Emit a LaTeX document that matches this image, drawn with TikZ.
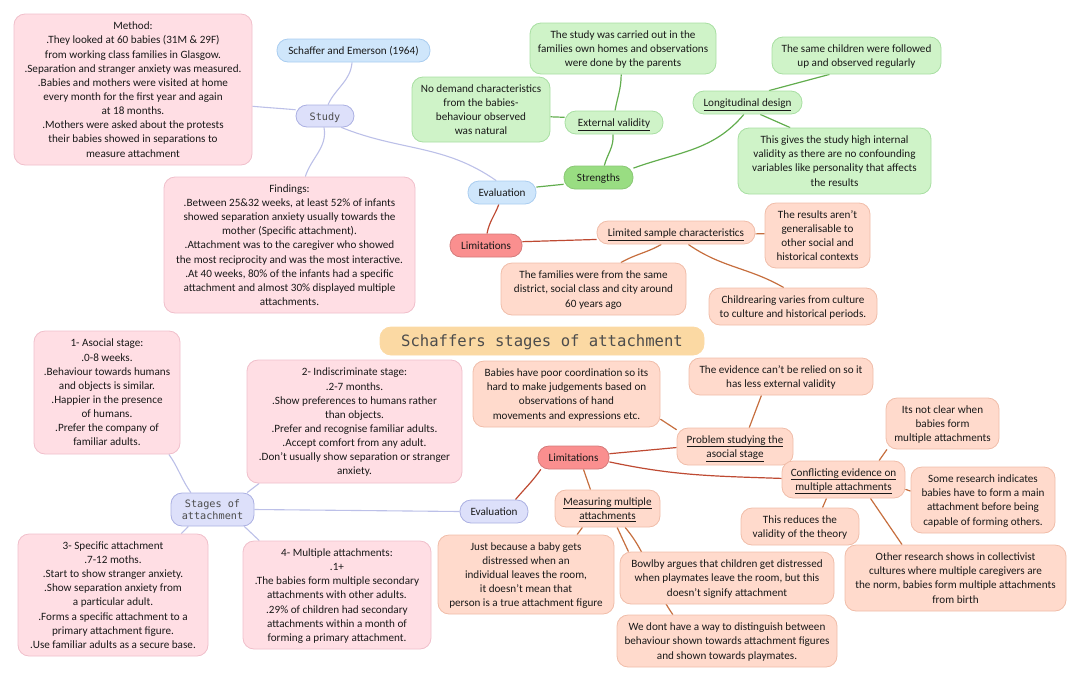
\documentclass[tikz,border=0pt]{standalone}
\usepackage{fontspec}
\setmainfont{Carlito}
\newfontfamily\monofont{DejaVu Sans Mono}
\usetikzlibrary{backgrounds}

\definecolor{pinkfill}{HTML}{FFDEE4}
\definecolor{pinkline}{HTML}{F0BFCB}
\definecolor{bluefill}{HTML}{CFE6FB}
\definecolor{blueline}{HTML}{A9CDF0}
\definecolor{lavfill}{HTML}{DDE0FA}
\definecolor{lavline}{HTML}{ABB0E2}
\definecolor{greenfill}{HTML}{CFF3C8}
\definecolor{greenline}{HTML}{A8DFA2}
\definecolor{peachfill}{HTML}{FFDACC}
\definecolor{peachline}{HTML}{F0BDA9}
\definecolor{titlefill}{HTML}{FBD9A3}
\definecolor{strongfill}{HTML}{99DD82}
\definecolor{limitfill}{HTML}{FA8F8F}
\definecolor{lavlink}{HTML}{BCC0E8}
\definecolor{greenlink}{HTML}{62AD4E}
\definecolor{redlink}{HTML}{BE4A32}
\definecolor{orangelink}{HTML}{C66E3E}

\tikzset{
    box/.style={rectangle, rounded corners=11pt, draw, line width=0.8pt, align=center, text=black!90,
        inner sep=0pt, font=\fontsize{11.15}{14.15}\selectfont, text depth=-1pt, execute at begin node={\rule{0pt}{8.5pt}}},
    pinkbox/.style={box, fill=pinkfill, draw=pinkline},
    bluebox/.style={box, fill=bluefill, draw=blueline},
    lavbox/.style={box, fill=lavfill, draw=lavline},
    greenbox/.style={box, fill=greenfill, draw=greenline},
    peachbox/.style={box, fill=peachfill, draw=peachline},
    monotext/.style={font=\monofont\fontsize{10.2}{12.4}\selectfont, text=black!70},
    size/.style 2 args={minimum width=#1 pt, minimum height=#2 pt},
    lavlk/.style={draw=lavlink, line width=1.1pt},
    greenlk/.style={draw=greenlink, line width=1.2pt},
    redlk/.style={draw=redlink, line width=1.2pt},
    orangelk/.style={draw=orangelink, line width=1.2pt},
}

\begin{document}
\begin{tikzpicture}[x=1pt,y=1pt]
    \useasboundingbox (0,0) rectangle (1080,-681);

    % upper left, the study
    \node[pinkbox, size={238}{151}] (method) at (133,-89.5) {Method:\\.They looked at 60 babies (31M \& 29F)\\from working class families in Glasgow.\\.Separation and stranger anxiety was measured.\\.Babies and mothers were visited at home\\every month for the first year and again\\at 18 months.\\.Mothers were asked about the protests\\their babies showed in separations to\\measure attachment};
    \node[bluebox, size={153}{23}] (schaffer) at (353.5,-50.5) {Schaffer and Emerson (1964)};
    \node[lavbox, monotext, size={58}{22}] (study) at (325,-116) {Study};
    \node[pinkbox, size={251}{136}] (findings) at (289.5,-245) {Findings:\\.Between 25\&32 weeks, at least 52\% of infants\\showed separation anxiety usually towards the\\mother (Specific attachment).\\.Attachment was to the caregiver who showed\\the most reciprocity and was the most interactive.\\.At 40 weeks, 80\% of the infants had a specific\\attachment and almost 30\% displayed multiple\\attachments.};

    % upper right, the evaluation
    \node[bluebox, size={68}{23}] (evaltop) at (502,-192.5) {Evaluation};
    \node[box, fill=limitfill, draw=limitfill!85!black, size={72}{23}] (limtop) at (486,-245.5) {Limitations};
    \node[box, fill=strongfill, draw=strongfill!90!black, size={69}{23}] (strengths) at (598.5,-177.5) {Strengths};
    \node[greenbox, size={98}{23}] (external) at (614,-122.5) {\underline{External validity}};
    \node[greenbox, size={186}{51}] (carried) at (623,-48.5) {The study was carried out in the\\families own homes and observations\\were done by the parents};
    \node[greenbox, size={138}{65}] (demand) at (481,-109.5) {No demand characteristics\\from the babies-\\behaviour observed\\was natural};
    \node[greenbox, size={109}{23}] (longi) at (747.5,-102.5) {\underline{Longitudinal design}};
    \node[greenbox, size={169}{37}] (same) at (856.5,-55.5) {The same children were followed\\up and observed regularly};
    \node[greenbox, size={193}{66}] (gives) at (834.5,-161) {This gives the study high internal\\validity as there are no confounding\\variables like personality that affects\\the results};
    \node[peachbox, size={158}{23}] (limited) at (676,-232.5) {\underline{Limited sample characteristics}};
    \node[peachbox, size={105}{65}] (results) at (817.5,-235.5) {The results aren't\\generalisable to\\other social and\\historical contexts};
    \node[peachbox, size={185}{52}] (families) at (593.5,-289) {The families were from the same\\district, social class and city around\\60 years ago};
    \node[peachbox, size={168}{37}] (childrearing) at (793,-306.5) {Childrearing varies from culture\\to culture and historical periods.};

    \node[box, fill=titlefill, draw=titlefill, text=black!70, font=\monofont\fontsize{15.6}{18}\selectfont, size={324}{28}] (title) at (542,-341) {Schaffers stages of attachment};

    % lower left, the stages
    \node[pinkbox, size={146}{123}] (asocial) at (107,-392.5) {1- Asocial stage:\\.0-8 weeks.\\.Behaviour towards humans\\and objects is similar.\\.Happier in the presence\\of humans.\\.Prefer the company of\\familiar adults.};
    \node[pinkbox, size={215}{123}] (indisc) at (354.5,-421.5) {2- Indiscriminate stage:\\.2-7 months.\\.Show preferences to humans rather\\than objects.\\.Prefer and recognise familiar adults.\\.Accept comfort from any adult.\\.Don't usually show separation or stranger\\anxiety.};
    \node[lavbox, monotext, size={83}{33}] (stages) at (212.5,-509.5) {Stages of\\attachment};
    \node[pinkbox, size={190}{122}] (specific) at (113,-595) {3- Specific attachment\\.7-12 moths.\\.Start to show stranger anxiety.\\.Show separation anxiety from\\a particular adult.\\.Forms a specific attachment to a\\primary attachment figure.\\.Use familiar adults as a secure base.};
    \node[pinkbox, size={188}{108}] (multiple) at (337,-595) {4- Multiple attachments:\\.1+\\.The babies form multiple secondary\\attachments with other adults.\\.29\% of children had secondary\\attachments within a month of\\forming a primary attachment.};

    % lower right, the limitations
    \node[lavbox, size={68}{23}] (evalbot) at (494,-511.5) {Evaluation};
    \node[box, fill=limitfill, draw=limitfill!85!black, size={71}{23}] (limbot) at (573.5,-457.5) {Limitations};
    \node[peachbox, size={187}{66}] (poor) at (566.5,-394) {Babies have poor coordination so its\\hard to make judgements based on\\observations of hand\\movements and expressions etc.};
    \node[peachbox, size={184}{37}] (evidence) at (781,-376.5) {The evidence can't be relied on so it\\has less external validity};
    \node[peachbox, size={116}{37}] (problem) at (735,-446.5) {\underline{Problem studying the}\\\underline{asocial stage}};
    \node[peachbox, size={113}{51}] (notclear) at (942.5,-423.5) {Its not clear when\\babies form\\multiple attachments};
    \node[peachbox, size={123}{37}] (conflicting) at (843.5,-479.5) {\underline{Conflicting evidence on}\\\underline{multiple attachments}};
    \node[peachbox, size={144}{66}] (some) at (983,-500) {Some research indicates\\babies have to form a main\\attachment before being\\capable of forming others.};
    \node[peachbox, size={118}{37}] (reduces) at (800,-526.5) {This reduces the\\validity of the theory};
    \node[peachbox, size={221}{66}] (other) at (955.5,-578) {Other research shows in collectivist\\cultures where multiple caregivers are\\the norm, babies form multiple attachments\\from birth};
    \node[peachbox, size={105}{37}] (measuring) at (607.5,-508.5) {\underline{Measuring multiple}\\\underline{attachments}};
    \node[peachbox, size={176}{79}] (just) at (526,-574.5) {Just because a baby gets\\distressed when an\\individual leaves the room,\\it doesn't mean that\\person is a true attachment figure};
    \node[peachbox, size={214}{52}] (bowlby) at (727,-578) {Bowlby argues that children get distressed\\when playmates leave the room, but this\\doesn't signify attachment};
    \node[peachbox, size={220}{52}] (wedont) at (727,-641) {We dont have a way to distinguish between\\behaviour shown towards attachment figures\\and shown towards playmates.};

    \begin{scope}[on background layer]
        \draw[lavlk] (study.75) to[out=65,in=-95] (schaffer.263);
        \draw[lavlk] (study.168) to[out=175,in=-5] (method.-8);
        \draw[lavlk] (study.265) to[out=-80,in=72] (findings.77);
        \draw[lavlk] (study.-35) to[out=-22,in=145] (evaltop.116);

        \draw[greenlk] (evaltop.9) -- (strengths.191);
        \draw[redlk] (evaltop.255) to[out=-110,in=80] (limtop.85);
        \draw[greenlk] (strengths.64) to[out=75,in=-85] (external.265);
        \draw[greenlk] (external.85) to[out=80,in=-90] (carried.266);
        \draw[greenlk] (external.174) -- (demand.-6);
        \draw[greenlk] (strengths.15) to[out=20,in=-130] (longi.253);
        \draw[greenlk] (longi.29) -- (same.215);
        \draw[greenlk] (longi.-43) -- (gives.143);
        \draw[redlk] (limtop.6) -- (limited.185);
        \draw[orangelk] (limited.-1) -- (results.178);
        \draw[orangelk] (limited.219) to[out=210,in=30] (families.44.5);
        \draw[orangelk] (limited.-44) to[out=-35,in=150] (childrearing.116);

        \draw[lavlk] (stages.142) to[out=125,in=-55] (asocial.-45);
        \draw[lavlk] (stages.26) -- (indisc.213);
        \draw[lavlk] (stages.215) -- (specific.42);
        \draw[lavlk] (stages.-28) -- (multiple.145);
        \draw[lavlk] (stages.0) -- (evalbot.180);

        \draw[redlk] (evalbot.29) to[out=50,in=-125] (limbot.200);
        \draw[redlk] (limbot.6) -- (problem.181);
        \draw[redlk] (limbot.-7) to[out=-12,in=178] (conflicting.179);
        \draw[orangelk] (limbot.-50) -- (measuring.132);
        \draw[orangelk] (problem.164) -- (poor.-15);
        \draw[orangelk] (problem.53) -- (evidence.224);
        \draw[orangelk] (conflicting.28) -- (notclear.205);
        \draw[orangelk] (conflicting.-9) -- (some.173);
        \draw[orangelk] (conflicting.228) -- (reduces.40);
        \draw[orangelk] (conflicting.-35) -- (other.148);
        \draw[orangelk] (measuring.217) -- (just.38);
        \draw[orangelk] (measuring.-63) -- (bowlby.165);
        \draw[orangelk] (measuring.-47) to[out=-50,in=125] (wedont.154);
    \end{scope}
\end{tikzpicture}
\end{document}
